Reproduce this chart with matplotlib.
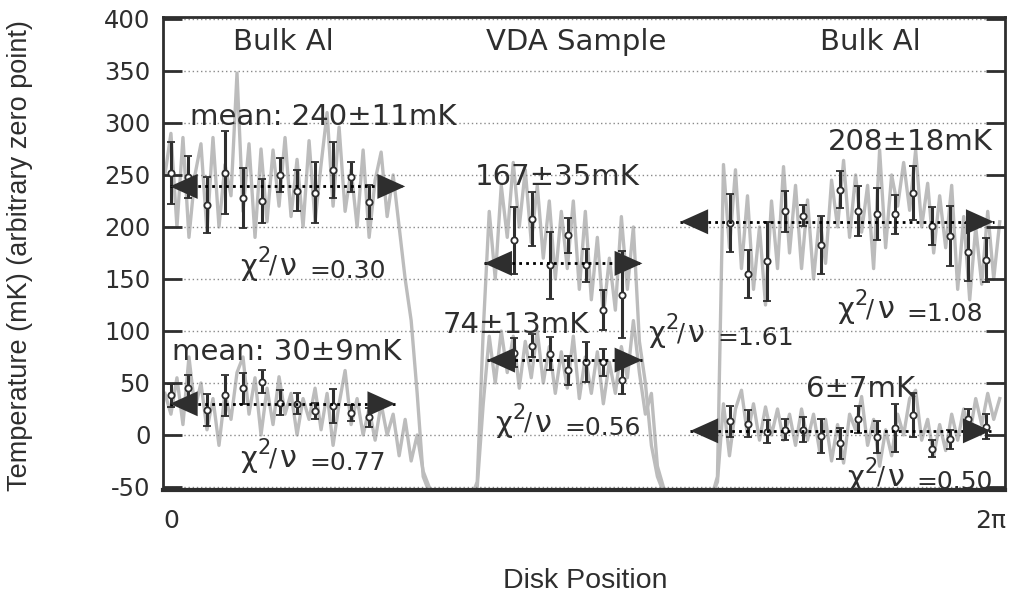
import numpy as np
import matplotlib.pyplot as plt

# disk position of the scanned temperature samples (0 .. 2pi)
trace_x = np.linspace(-0.046, 6.355, 140)

# upper trace (mK)
trace_upper = [
    250, 290, 200, 286, 190, 250, 280, 195, 286, 200,
    260, 230, 348, 215, 280, 190, 275, 205, 274, 220,
    286, 210, 265, 200, 283, 205, 260, 310, 220, 296,
    215, 255, 200, 274, 190, 245, 272, 210, 250, 200,
    150, 110, 40, -40, -55, -60, -60, -60, -60, -60,
    -60, -60, -45, 100, 215, 150, 240, 190, 262, 200,
    255, 185, 240, 170, 225, 150, 215, 160, 225, 140,
    215, 130, 190, 115, 170, 120, 210, 140, 200, 90,
    50, -10, -40, -55, -60, -60, -60, -60, -60, -60,
    -60, -60, -40, 260, 180, 255, 160, 230, 140, 200,
    125, 225, 160, 258, 175, 240, 160, 226, 150, 210,
    165, 245, 200, 264, 190, 250, 195, 240, 160, 274,
    180, 250, 220, 262, 216, 274, 200, 242, 175, 230,
    180, 240, 140, 210, 130, 200, 145, 215, 150, 205,
]

# lower trace (mK)
trace_lower = [
    40, 20, 55, 10, 75, 25, 50, 5, 35, -10,
    40, 15, 60, 75, 20, 55, 0, 45, 10, 56,
    20, 40, 0, 35, 15, 45, 5, 40, -10, 30,
    62, 10, 35, 0, 25, -5, 30, 0, 20, -20,
    15, -25, 0, -35, -50, -60, -60, -60, -60, -60,
    -60, -60, -50, 30, 95, 50, 100, 60, 95, 45,
    90, 55, 100, 50, 85, 40, 80, 45, 95, 35,
    75, 40, 80, 30, 70, 40, 85, 55, 110, 60,
    20, 40, -30, -50, -60, -60, -60, -60, -60, -60,
    -60, -60, -45, 30, -20, 25, 43, 0, 30, -5,
    27, 0, 25, -5, 20, -10, 25, -5, 20, -15,
    15, -25, 10, -27, 20, 5, 37, -10, 15, -30,
    5, -20, 20, 0, 35, 43, -5, 15, -20, 10,
    -15, 20, -5, 25, 0, 35, 10, 40, 15, 35,
]

# binned averages with error bars
left_x = [0.0, 0.13, 0.276, 0.414, 0.553, 0.698, 0.836, 0.967, 1.105, 1.243, 1.381, 1.52]
left_hi = [252, 248, 221, 252, 228, 225, 250, 235, 233, 255, 248, 224]
left_hi_err = [30, 20, 27, 40, 29, 21, 16, 20, 29, 27, 14, 16]
left_lo = [38, 45, 24, 38, 45, 51, 31, 30, 23, 28, 21, 17]
left_lo_err = [11, 13, 15, 20, 15, 11, 12, 10, 8, 16, 8, 9]

vda_x = [2.632, 2.771, 2.909, 3.047, 3.185, 3.315, 3.461]
vda_hi = [187, 208, 163, 192, 163, 120, 135]
vda_hi_err = [32, 26, 32, 17, 16, 19, 42]
vda_lo = [79, 86, 78, 62, 70, 70, 53]
vda_lo_err = [14, 11, 16, 14, 19, 13, 14]

right_x = [4.290, 4.428, 4.574, 4.712, 4.850, 4.988, 5.127, 5.272,
           5.411, 5.549, 5.687, 5.833, 5.971, 6.109, 6.247]
right_hi = [204, 155, 167, 215, 211, 183, 236, 215, 212, 212, 233, 201, 191, 176, 168]
right_hi_err = [28, 23, 38, 20, 10, 28, 18, 24, 25, 19, 26, 18, 29, 28, 21]
right_lo = [13, 11, 3, 5, 5, -1, -8, 15, -2, 7, 19, -13, -4, 15, 8]
right_lo_err = [15, 13, 11, 10, 12, 16, 15, 13, 15, 23, 21, 8, 9, 10, 12]

# fitted means: arrow extent and level
arrow_x0 = [-0.008, -0.008, 2.402, 2.425, 3.906, 3.983]
arrow_x1 = [1.796, 1.72, 3.615, 3.615, 6.309, 6.286]
arrow_y = [239, 30, 165, 72, 205, 4]

# region titles
region_names = ["Bulk Al", "VDA Sample", "Bulk Al"]
region_x = [0.86, 3.108, 5.365]

# mean labels: text, left x, baseline
mean_text = ["mean: 240\u00b111mK", "mean: 30\u00b19mK", "167\u00b135mK",
             "74\u00b113mK", "208\u00b118mK", "6\u00b17mK"]
mean_x = [0.146, 0.008, 2.333, 2.087, 5.035, 4.866]
mean_y = [298, 72, 240, 98, 274, 36.5]

# reduced chi-square labels
chi_val = ["=0.30", "=0.77", "=0.56", "=1.61", "=1.08", "=0.50"]
chi_x = [0.530, 0.530, 2.487, 3.661, 5.111, 5.188]
chi_y = [154, -31, 3, 89, 112, -49]

ink = "#2e2e2e"
plt.rcParams["font.family"] = "DejaVu Sans"
plt.rcParams["axes.unicode_minus"] = False

fig = plt.figure(figsize=(10.11, 5.98), dpi=100)
ax = fig.add_axes([0.1612, 0.1806, 0.8332, 0.791])
ax.set_xlim(-0.061, 6.398)
ax.set_ylim(-52.9, 401.9)

ax.plot(trace_x, trace_upper, color="#bcbcbc", lw=2.4, zorder=1)
ax.plot(trace_x, trace_lower, color="#bcbcbc", lw=2.4, zorder=1)

groups = [
    (left_x, left_hi, left_hi_err), (left_x, left_lo, left_lo_err),
    (vda_x, vda_hi, vda_hi_err), (vda_x, vda_lo, vda_lo_err),
    (right_x, right_hi, right_hi_err), (right_x, right_lo, right_lo_err),
]
for xs, ys, es in groups:
    ax.errorbar(xs, ys, yerr=es, fmt="o", ms=4.5, mfc="white", mec=ink, mew=1.3,
                ecolor=ink, elinewidth=2.2, capsize=2.8, capthick=2, zorder=3)

for x0, x1, y in zip(arrow_x0, arrow_x1, arrow_y):
    ax.plot([x0, x1], [y, y], color="black", lw=2, ls=(0, (1, 1.5)), zorder=4)
    ax.annotate("", xy=(x0, y), xytext=(x1, y), zorder=5,
                arrowprops=dict(arrowstyle="<|-|>,head_length=1.0,head_width=0.45",
                                mutation_scale=20, lw=0, color=ink,
                                shrinkA=0, shrinkB=0))

for name, x in zip(region_names, region_x):
    ax.text(x, 370, name, fontsize=21, ha="center", va="baseline", color=ink)

for t, x, y in zip(mean_text, mean_x, mean_y):
    ax.text(x, y, t, fontsize=21, ha="left", va="baseline", color=ink, zorder=6)

pt = 1 / 1.389  # pixels -> points
for v, x, y in zip(chi_val, chi_x, chi_y):
    ax.text(x, y, "\u03c7", fontsize=21, ha="left", va="baseline", color=ink, zorder=6)
    ax.annotate("2", xy=(x, y), xytext=(17 * pt, 13 * pt), textcoords="offset points",
                fontsize=15, ha="left", va="baseline", color=ink, zorder=6)
    ax.annotate("/", xy=(x, y), xytext=(29 * pt, 2 * pt), textcoords="offset points",
                fontsize=17, ha="left", va="baseline", color=ink, zorder=6)
    ax.annotate("\u03bd", xy=(x, y), xytext=(40 * pt, 0), textcoords="offset points",
                fontsize=22, ha="left", va="baseline", color=ink, zorder=6)
    ax.annotate(v, xy=(x, y), xytext=(69 * pt, -3 * pt), textcoords="offset points",
                fontsize=18, ha="left", va="baseline", color=ink, zorder=6)

ax.set_yticks(np.arange(-50, 401, 50))
ax.tick_params(axis="y", direction="in", length=14, width=2, left=True, right=True,
               labelsize=17.5, pad=9, colors=ink)
ax.set_xticks([0, 2 * np.pi])
ax.set_xticklabels(["0", "2\u03c0"])
ax.tick_params(axis="x", length=0, pad=14, labelsize=18, colors=ink)
ax.grid(axis="y", color="#8a8a8a", ls=(0, (1, 2)), lw=1)
for side in ["left", "right", "top"]:
    ax.spines[side].set_linewidth(2)
    ax.spines[side].set_color(ink)
ax.spines["bottom"].set_linewidth(3)
ax.spines["bottom"].set_color(ink)

fig.text(20 / 1011, 1 - 256 / 598, "Temperature (mK) (arbitrary zero point)",
         rotation=90, ha="center", va="center", family="Liberation Sans",
         fontsize=19.5, color=ink)
fig.text(585 / 1011, 1 - 581 / 598, "Disk Position", ha="center", va="center",
         family="Liberation Sans", fontsize=20.5, color=ink)

fig.savefig("out.png", dpi=100)
